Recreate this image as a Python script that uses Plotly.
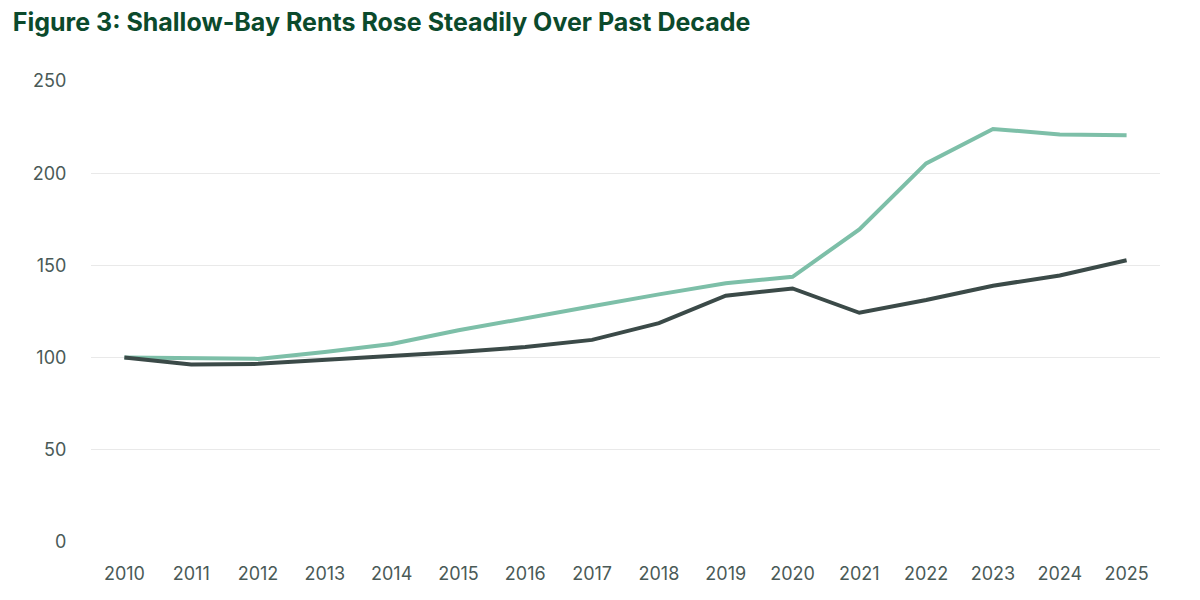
import plotly.graph_objects as go

years = [str(y) for y in range(2010, 2026)]
shallow_bay = [100, 99.8, 99.3, 103, 107.4, 114.8, 121.5, 127.8, 134.3, 140.3, 143.8, 169.5, 205.3, 224, 221, 220.6]
overall = [100, 96.3, 96.6, 98.7, 100.8, 103, 105.7, 109.6, 118.7, 133.6, 137.5, 124.3, 131.2, 139, 144.5, 152.8]
y_ticks = [0, 50, 100, 150, 200, 250]
title_text = "Figure 3: Shallow-Bay Rents Rose Steadily Over Past Decade"

fig = go.Figure()
fig.add_trace(go.Scatter(x=years, y=shallow_bay, mode="lines",
                         line=dict(color="#7dbfa8", width=4), name="Shallow-Bay"))
fig.add_trace(go.Scatter(x=years, y=overall, mode="lines",
                         line=dict(color="#3b4a48", width=4), name="Overall"))

fig.update_layout(
    width=1200, height=600,
    paper_bgcolor="white", plot_bgcolor="white",
    margin=dict(l=83, r=48, t=73, b=66),
    showlegend=False,
    title=dict(text="<b>" + title_text + "</b>", xref="container", yref="container",
               x=0.004, xanchor="left", y=0.976, yanchor="middle", pad=dict(l=0, t=0, b=0, r=0),
               font=dict(family="Inter", size=25, color="#0b4a2c")),
    font=dict(family="Inter", size=18, color="#4a5a57"),
)
fig.update_xaxes(type="category", range=[-0.5, 15.5], showgrid=False, zeroline=False,
                 showline=False, ticks="outside", ticklen=15, tickcolor="rgba(0,0,0,0)",
                 tickfont=dict(size=18, color="#4a5a57"))
fig.update_yaxes(range=[0, 250], tickvals=y_ticks, showgrid=True, gridcolor="#e9e9e9",
                 gridwidth=1, zeroline=False, showline=False, ticks="outside", ticklen=20,
                 tickcolor="rgba(0,0,0,0)", tickfont=dict(size=18, color="#4a5a57"))

fig.write_html("out.html")
